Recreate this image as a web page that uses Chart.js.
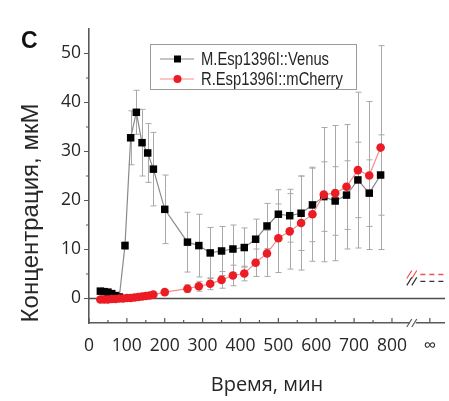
<!DOCTYPE html>
<html>
<head>
<meta charset="utf-8">
<script src="https://cdn.jsdelivr.net/npm/chart.js@4.4.1/dist/chart.umd.min.js"></script>
<style>
  body { margin: 0; background: #fff; }
  #wrap { width: 449px; height: 401px; position: relative; }
</style>
</head>
<body>
<div id="wrap"><canvas id="concChart"></canvas></div>
<script>
// Venus sensor: time (min), concentration (uM), error
const venusTime = [30, 40, 50, 60, 70, 80, 95, 110, 125, 140, 155, 170, 200, 260, 290, 320, 350, 380, 410, 440, 470, 500, 530, 560, 590, 620, 650, 680, 710, 740, 770];
const venusConc = [1.5, 1.4, 1.3, 1.0, 0.6, 0.3, 10.8, 32.8, 38.0, 31.8, 29.7, 26.4, 18.2, 11.5, 10.8, 9.3, 9.7, 10.1, 10.4, 12.1, 14.8, 17.2, 16.9, 17.4, 19.1, 20.8, 19.9, 21.1, 24.2, 21.5, 25.2];
const venusErr  = [0.3, 0.3, 0.3, 0.3, 0.3, 0.3, 0.8, 5.5, 4.5, 6.8, 6.0, 7.5, 7.0, 6.1, 6.4, 5.2, 5.0, 4.9, 4.0, 4.1, 4.6, 5.0, 5.4, 7.6, 7.5, 7.1, 7.0, 7.0, 7.7, 6.8, 8.2];

// mCherry sensor
const cherryTime = [30, 40, 50, 60, 70, 80, 90, 100, 110, 120, 130, 140, 150, 160, 170, 200, 260, 290, 320, 350, 380, 410, 440, 470, 500, 530, 560, 590, 620, 650, 680, 710, 740, 770];
const cherryConc = [-0.2, -0.2, -0.2, -0.1, -0.1, 0, 0, 0.1, 0.1, 0.2, 0.3, 0.4, 0.5, 0.6, 0.8, 1.3, 2.0, 2.5, 3.0, 3.8, 4.7, 5.1, 7.3, 9.2, 12.3, 13.7, 15.4, 17.2, 21.2, 21.5, 22.8, 26.2, 25.1, 30.8];
const cherryErr  = [0.2, 0.2, 0.2, 0.2, 0.2, 0.2, 0.2, 0.2, 0.2, 0.2, 0.2, 0.2, 0.2, 0.2, 0.2, 0.5, 0.8, 1.0, 1.2, 1.7, 2.1, 1.5, 2.8, 4.7, 7.0, 7.7, 9.6, 9.6, 13.7, 13.8, 12.7, 15.9, 15.1, 20.8];

// levels at t = infinity (right of the axis break)
const venusInf = 3.5;
const cherryInf = 4.9;

const xTickValues = [0, 100, 200, 300, 400, 500, 600, 700, 800, 900];
const xTickLabels = ['0', '100', '200', '300', '400', '500', '600', '700', '800', '\u221E'];
const yTickValues = [0, 10, 20, 30, 40, 50];

const X_MAX = 940;
const X_BREAK = 855;
const INF_START = 875;

const AXIS = '#595959';
const TEXT = '#262626';
const tickFont = { family: 'Open Sans', size: 17.5 };

function toPoints(xs, ys) {
    return xs.map((t, i) => ({ x: t, y: ys[i] }));
}

const decor = {
    id: 'decor',
    beforeDatasetsDraw(chart) {
        const { ctx, chartArea: ca, scales: { x, y } } = chart;
        ctx.save();

        // zero line across the whole plot
        const y0 = y.getPixelForValue(0);
        ctx.strokeStyle = '#4d4d4d';
        ctx.lineWidth = 1.6;
        ctx.beginPath();
        ctx.moveTo(ca.left, y0);
        ctx.lineTo(ca.right, y0);
        ctx.stroke();

        // error bars
        ctx.strokeStyle = '#a8a8a8';
        ctx.lineWidth = 1;
        chart.data.datasets.forEach(ds => {
            if (!ds.errors) return;
            ds.data.forEach((p, i) => {
                const e = ds.errors[i];
                const px = Math.round(x.getPixelForValue(p.x)) + 0.5;
                const top = y.getPixelForValue(p.y + e);
                const bot = y.getPixelForValue(p.y - e);
                ctx.beginPath();
                ctx.moveTo(px, top); ctx.lineTo(px, bot);
                ctx.moveTo(px - 3, top); ctx.lineTo(px + 3, top);
                ctx.moveTo(px - 3, bot); ctx.lineTo(px + 3, bot);
                ctx.stroke();
            });
        });
        ctx.restore();
    },
    afterDraw(chart) {
        const { ctx, chartArea: ca, scales: { x, y } } = chart;
        ctx.save();

        // x ticks point into the plot
        ctx.strokeStyle = AXIS;
        ctx.lineWidth = 1.2;
        ctx.beginPath();
        for (let v = 0; v <= 800; v += 50) {
            const px = x.getPixelForValue(v);
            const len = v % 100 === 0 ? 5 : 3;
            ctx.moveTo(px, ca.bottom);
            ctx.lineTo(px, ca.bottom - len);
        }
        const pInf = x.getPixelForValue(900);
        ctx.moveTo(pInf, ca.bottom);
        ctx.lineTo(pInf, ca.bottom - 5);

        // y ticks point outwards
        for (let v = 0; v <= 50; v += 5) {
            const py = y.getPixelForValue(v);
            const len = v % 10 === 0 ? 5 : 3;
            ctx.moveTo(ca.left, py);
            ctx.lineTo(ca.left - len, py);
        }
        ctx.stroke();

        // axis break marks
        const bx = x.getPixelForValue(X_BREAK);
        const slash = (cx, cy, color) => {
            ctx.fillStyle = '#fff';
            ctx.fillRect(cx - 3, cy - 2, 6, 4);
            ctx.strokeStyle = color;
            ctx.lineWidth = 1.2;
            ctx.beginPath();
            ctx.moveTo(cx - 6, cy + 4); ctx.lineTo(cx - 1, cy - 4);
            ctx.moveTo(cx - 1, cy + 4); ctx.lineTo(cx + 4, cy - 4);
            ctx.stroke();
        };
        slash(bx, ca.bottom, AXIS);
        slash(bx, y.getPixelForValue(cherryInf), '#f05050');
        slash(bx, y.getPixelForValue(venusInf), '#333');

        // legend box
        ctx.strokeStyle = '#9a9a9a';
        ctx.lineWidth = 1;
        ctx.strokeRect(150.5, 44.5, 206, 45);
        const entries = [
            { ds: chart.data.datasets[0], y: 59 },
            { ds: chart.data.datasets[1], y: 79 }
        ];
        entries.forEach(en => {
            ctx.strokeStyle = en.ds.borderColor;
            ctx.lineWidth = 1;
            ctx.beginPath();
            ctx.moveTo(160, en.y); ctx.lineTo(194, en.y);
            ctx.stroke();
            ctx.fillStyle = en.ds.pointBackgroundColor;
            ctx.beginPath();
            if (en.ds.pointStyle === 'rect') ctx.rect(174, en.y - 3.5, 7, 7);
            else ctx.arc(177.5, en.y, 4, 0, Math.PI * 2);
            ctx.fill();
            // condensed label text
            ctx.save();
            ctx.translate(201, en.y + 1);
            ctx.scale(0.82, 1);
            ctx.font = '18px "Liberation Sans"';
            ctx.textBaseline = 'middle';
            ctx.textAlign = 'left';
            ctx.fillStyle = TEXT;
            ctx.fillText(en.ds.label, 0, 0);
            ctx.restore();
        });

        // panel letter
        ctx.fillStyle = '#111';
        ctx.font = 'bold 23px "Liberation Sans"';
        ctx.textAlign = 'left';
        ctx.textBaseline = 'alphabetic';
        ctx.fillText('C', 21, 48);

        // y axis title
        ctx.translate(31, 213);
        ctx.rotate(-Math.PI / 2);
        ctx.font = '24px "Liberation Sans"';
        ctx.textAlign = 'center';
        ctx.textBaseline = 'middle';
        ctx.fillStyle = TEXT;
        ctx.fillText('Концентрация, мкМ', 0, 0);
        ctx.restore();
    }
};

const ctx = document.getElementById('concChart').getContext('2d');
new Chart(ctx, {
    type: 'line',
    data: {
        datasets: [
            {
                label: 'M.Esp1396I::Venus',
                data: toPoints(venusTime, venusConc),
                errors: venusErr,
                borderColor: '#8a8a8a',
                borderWidth: 1.2,
                pointStyle: 'rect',
                pointRadius: 5.3,
                pointBackgroundColor: '#000',
                pointBorderWidth: 0,
                order: 1
            },
            {
                label: 'R.Esp1396I::mCherry',
                data: toPoints(cherryTime, cherryConc),
                errors: cherryErr,
                borderColor: '#f48c8c',
                borderWidth: 1.2,
                pointStyle: 'circle',
                pointRadius: 4.3,
                pointBackgroundColor: '#ec1c24',
                pointBorderWidth: 0,
                order: 0
            },
            {
                data: [{ x: INF_START, y: venusInf }, { x: X_MAX, y: venusInf }],
                borderColor: '#333',
                borderWidth: 1.3,
                borderDash: [5, 4],
                pointRadius: 0
            },
            {
                data: [{ x: INF_START, y: cherryInf }, { x: X_MAX, y: cherryInf }],
                borderColor: '#f05050',
                borderWidth: 1.3,
                borderDash: [5, 4],
                pointRadius: 0
            }
        ]
    },
    options: {
        responsive: true,
        maintainAspectRatio: false,
        animation: false,
        layout: { padding: { top: 29, right: 0, left: 0, bottom: 0 }, autoPadding: false },
        plugins: { legend: { display: false }, tooltip: { enabled: false } },
        scales: {
            x: {
                type: 'linear',
                min: 0,
                max: X_MAX,
                afterBuildTicks: s => { s.ticks = xTickValues.map(v => ({ value: v })); },
                afterFit: s => { s.height = 78; },
                grid: { display: false, drawTicks: false },
                border: { color: AXIS, width: 1.6 },
                ticks: {
                    padding: 13,
                    maxRotation: 0,
                    autoSkip: false,
                    color: TEXT,
                    font: tickFont,
                    callback: v => xTickLabels[xTickValues.indexOf(v)]
                },
                title: {
                    display: true,
                    text: 'Время, мин',
                    color: TEXT,
                    font: { family: 'Open Sans', size: 20 },
                    padding: { top: 0, bottom: 4 }
                }
            },
            y: {
                min: -5,
                max: 55,
                afterBuildTicks: s => { s.ticks = yTickValues.map(v => ({ value: v })); },
                afterFit: s => { s.width = 89; },
                grid: { display: false, drawTicks: false },
                border: { color: AXIS, width: 1.6 },
                ticks: { padding: 8, color: TEXT, font: tickFont }
            }
        }
    },
    plugins: [decor]
});
</script>
</body>
</html>
